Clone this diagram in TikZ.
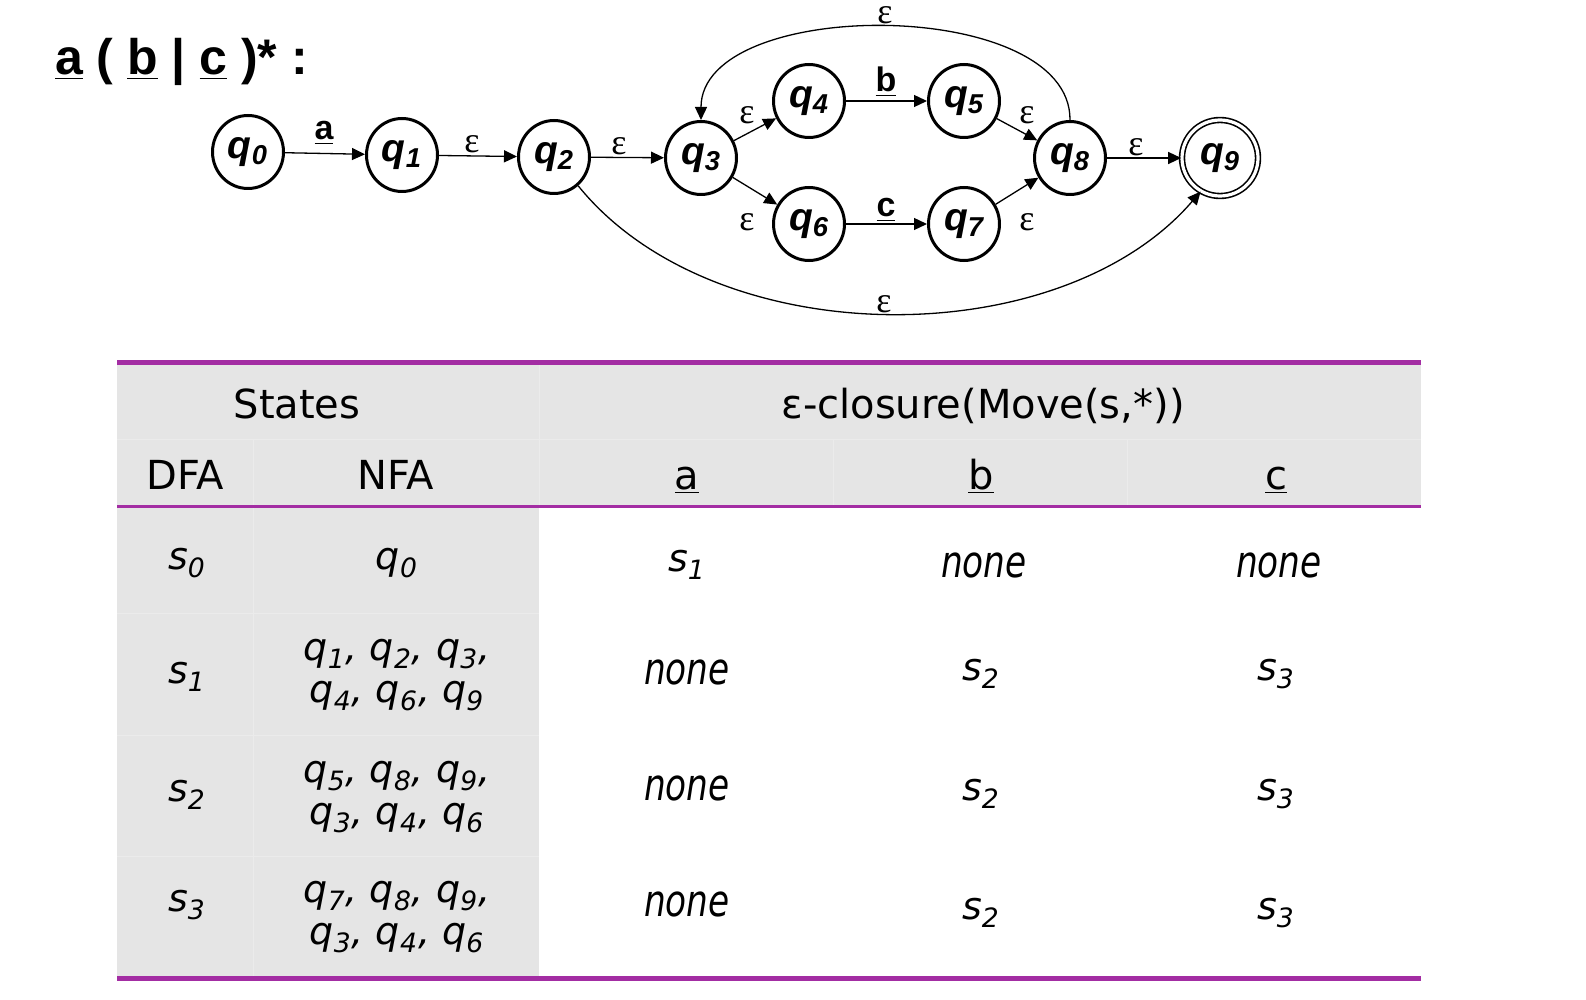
\documentclass[tikz,border=0pt]{standalone}
\usepackage{fontspec}
\setmainfont{Liberation Sans}
\newfontfamily\epsfont{Liberation Serif}
\newfontfamily\tabfont{DejaVu Sans}
\newfontfamily\nonefont[FakeStretch=0.78]{DejaVu Sans}
\usetikzlibrary{arrows.meta, shapes.geometric}
\definecolor{tabpurple}{RGB}{163,45,163}
\definecolor{tabgray}{RGB}{229,229,229}
\definecolor{tabline}{RGB}{235,235,235}
\newcommand{\qs}[1]{\textbf{\textit{q\textsubscript{#1}}}}
\newcommand{\eps}{{\epsfont ε}}
\newcommand{\tq}[1]{q\textsubscript{#1}}
\newcommand{\ts}[1]{s\textsubscript{#1}}
\newcommand{\none}{{\nonefont\itshape\fontsize{22}{22}\selectfont none}}

\begin{document}
\begin{tikzpicture}[x=0.5pt, y=-0.5pt,
    state/.style={draw, ellipse, line width=1.5pt, minimum width=35.5pt,
        minimum height=36.5pt, inner sep=0pt,
        font=\fontsize{19.5}{19.5}\selectfont},
    accept/.style={state, line width=0.8pt, double, double distance=1.6pt,
        minimum width=38pt, minimum height=38pt},
    trans/.style={line width=0.65pt, -{Triangle[length=6.5pt, width=6pt]}},
    lbl/.style={font=\fontsize{18}{18}\selectfont, inner sep=0pt},
    sym/.style={font=\fontsize{17}{17}\selectfont\bfseries, inner sep=0pt,
        anchor=base},
    head/.style={font=\tabfont\fontsize{20}{20}\selectfont, anchor=base},
    cell/.style={font=\tabfont\itshape\fontsize{19}{21}\selectfont,
        align=center, inner sep=0pt}]
    \useasboundingbox (0, 0) rectangle (1586, 1000);
    \node[anchor=base west, font=\fontsize{25}{25}\selectfont\bfseries]
        (title) at(48, 75) {\underline{a} ( \underline{b} | \underline{c} )* :};
    \node[state] (q0) at(248, 152) {\qs{0}};
    \node[state] (q1) at(402, 155) {\qs{1}};
    \node[state] (q2) at(554, 157) {\qs{2}};
    \node[state] (q3) at(701, 158) {\qs{3}};
    \node[state] (q4) at(809, 101) {\qs{4}};
    \node[state] (q5) at(964, 101) {\qs{5}};
    \node[state] (q6) at(809, 224) {\qs{6}};
    \node[state] (q7) at(964, 224) {\qs{7}};
    \node[state] (q8) at(1070, 158) {\qs{8}};
    \node[accept] (q9) at(1220, 158) {\qs{9}};
    \draw[trans] (q0) -- (q1);
    \draw[trans] (q1) -- (q2);
    \draw[trans] (q2) -- (q3);
    \draw[trans] (q3) -- (q4);
    \draw[trans] (q3) -- (q6);
    \draw[trans] (q4) -- (q5);
    \draw[trans] (q6) -- (q7);
    \draw[trans] (q5) -- (q8);
    \draw[trans] (q7) -- (q8);
    \draw[trans] (q8) -- (q9);
    \draw[trans] (q8.north) .. controls (1071, -4) and (701, -4) .. (q3.north);
    \draw[trans] (q2.310) .. controls (715, 355) and (1060, 355) .. (q9.240);
    \node[sym] (la) at(324, 140) {\underline{a}};
    \node[sym] (lb) at(886, 92) {\underline{b}};
    \node[sym] (lc) at(886, 217) {\underline{c}};
    \node[lbl] (e12) at(472, 144) {\eps};
    \node[lbl] (e23) at(619, 146) {\eps};
    \node[lbl] (e34) at(747, 115) {\eps};
    \node[lbl] (e36) at(747, 222) {\eps};
    \node[lbl] (e58) at(1027, 115) {\eps};
    \node[lbl] (e78) at(1027, 222) {\eps};
    \node[lbl] (e89) at(1136, 147) {\eps};
    \node[lbl] (eback) at(885, 15) {\eps};
    \node[lbl] (eskip) at(884, 304) {\eps};
    \fill[tabgray] (117, 361) rectangle (1421, 506);
    \fill[tabgray] (117, 506) rectangle (539, 976);
    \draw[tabline, line width=0.5pt] (117, 439) -- (1421, 439);
    \draw[tabline, line width=0.5pt] (117, 613) -- (539, 613);
    \draw[tabline, line width=0.5pt] (117, 735) -- (539, 735);
    \draw[tabline, line width=0.5pt] (117, 856) -- (539, 856);
    \draw[tabline, line width=0.5pt] (253, 439) -- (253, 976);
    \draw[tabline, line width=0.5pt] (539, 361) -- (539, 506);
    \draw[tabline, line width=0.5pt] (833, 439) -- (833, 506);
    \draw[tabline, line width=0.5pt] (1127, 439) -- (1127, 506);
    \draw[tabpurple, line width=2.5pt] (117, 363) -- (1421, 363);
    \draw[tabpurple, line width=1.5pt] (117, 506) -- (1421, 506);
    \draw[tabpurple, line width=2.5pt] (117, 978) -- (1421, 978);
    \node[head] (hstates) at(297, 418) {States};
    \node[head] (hclos) at(983, 418) {ε-closure(Move(s,*))};
    \node[head] (hdfa) at(185, 489) {DFA};
    \node[head] (hnfa) at(396, 489) {NFA};
    \node[head] (ha) at(687, 489) {\underline{a}};
    \node[head] (hb) at(981, 489) {\underline{b}};
    \node[head] (hc) at(1276, 489) {\underline{c}};
    \node[cell] (d0) at(187, 563) {\ts{0}};
    \node[cell] (n0) at(397, 563) {\tq{0}};
    \node[cell] (a0) at(687, 565) {\ts{1}};
    \node[cell] (b0) at(984, 565) {\none};
    \node[cell] (c0) at(1279, 565) {\none};
    \node[cell] (d1) at(187, 677) {\ts{1}};
    \node[cell] (n1) at(397, 675) {\tq{1}, \tq{2}, \tq{3},\\ \tq{4}, \tq{6}, \tq{9}};
    \node[cell] (a1) at(687, 672) {\none};
    \node[cell] (b1) at(981, 674) {\ts{2}};
    \node[cell] (c1) at(1276, 674) {\ts{3}};
    \node[cell] (d2) at(187, 795) {\ts{2}};
    \node[cell] (n2) at(397, 797) {\tq{5}, \tq{8}, \tq{9},\\ \tq{3}, \tq{4}, \tq{6}};
    \node[cell] (a2) at(687, 788) {\none};
    \node[cell] (b2) at(981, 794) {\ts{2}};
    \node[cell] (c2) at(1276, 794) {\ts{3}};
    \node[cell] (d3) at(187, 905) {\ts{3}};
    \node[cell] (n3) at(397, 917) {\tq{7}, \tq{8}, \tq{9},\\ \tq{3}, \tq{4}, \tq{6}};
    \node[cell] (a3) at(687, 904) {\none};
    \node[cell] (b3) at(981, 913) {\ts{2}};
    \node[cell] (c3) at(1276, 913) {\ts{3}};
\end{tikzpicture}
\end{document}
